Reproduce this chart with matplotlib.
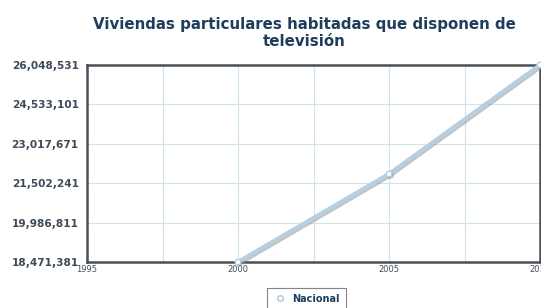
import matplotlib
matplotlib.use("Agg")
import matplotlib.pyplot as plt
import matplotlib.patheffects as pe
from matplotlib.lines import Line2D

years = [2000, 2005, 2010]
values = [18471381, 21856421, 26048531]
yticks = [18471381, 19986811, 21502241, 23017671, 24533101, 26048531]
xticks = [1995, 2000, 2005, 2010]
title = "Viviendas particulares habitadas que disponen de\ntelevisión"
series_name = "Nacional"

fig = plt.figure(figsize=(5.41, 3.08), dpi=100)
ax = fig.add_axes([87/541, 1-262/308, (540-87)/541, (262-65)/308])

ax.plot(years, values, color="#b7cfe0", lw=3.0, solid_capstyle="round",
        marker="o", ms=4, mfc="white", mec="#b7cfe0", mew=1, zorder=5,
        path_effects=[pe.SimpleLineShadow(offset=(1, -1), shadow_color="#8a8a8a", alpha=0.5), pe.Normal()],
        clip_on=False)

ax.set_xlim(1995, 2010)
ax.set_ylim(yticks[0], yticks[-1])
ax.set_xticks(xticks)
ax.set_xticks([1997.5, 2002.5, 2007.5], minor=True)
ax.set_yticks(yticks)
ax.set_yticklabels([f"{v:,}" for v in yticks], fontsize=7.6, fontweight="bold", color="#3e4a58")
ax.set_xticklabels([str(x) for x in xticks], fontsize=6, color="#444c55")
ax.grid(True, which="both", color="#cfe3ea", lw=0.8)
ax.tick_params(which="both", length=0, pad=6)
ax.tick_params(axis="x", pad=2)
for s in ax.spines.values():
    s.set_color("#4a5058")
    s.set_linewidth(1.8)

fig.text(304/541, 1-17/308, title, ha="center", va="top", fontsize=10.8,
         fontweight="bold", color="#1f3d5c", linespacing=1.15)

handle = Line2D([], [], linestyle="none", marker="o", ms=4, mfc="white",
                mec="#b7cfe0", mew=1.2)
leg = fig.legend([handle], [series_name], loc="upper left",
                 bbox_to_anchor=(267/541, 1-288/308), fontsize=7,
                 frameon=True, fancybox=False, edgecolor="#666666", handlelength=1.4,
                 handletextpad=0.6, borderpad=0.6, borderaxespad=0)
leg.get_frame().set_linewidth(0.8)
for t in leg.get_texts():
    t.set_color("#1f3d5c")
    t.set_fontweight("bold")

fig.savefig("out.png", dpi=100)
